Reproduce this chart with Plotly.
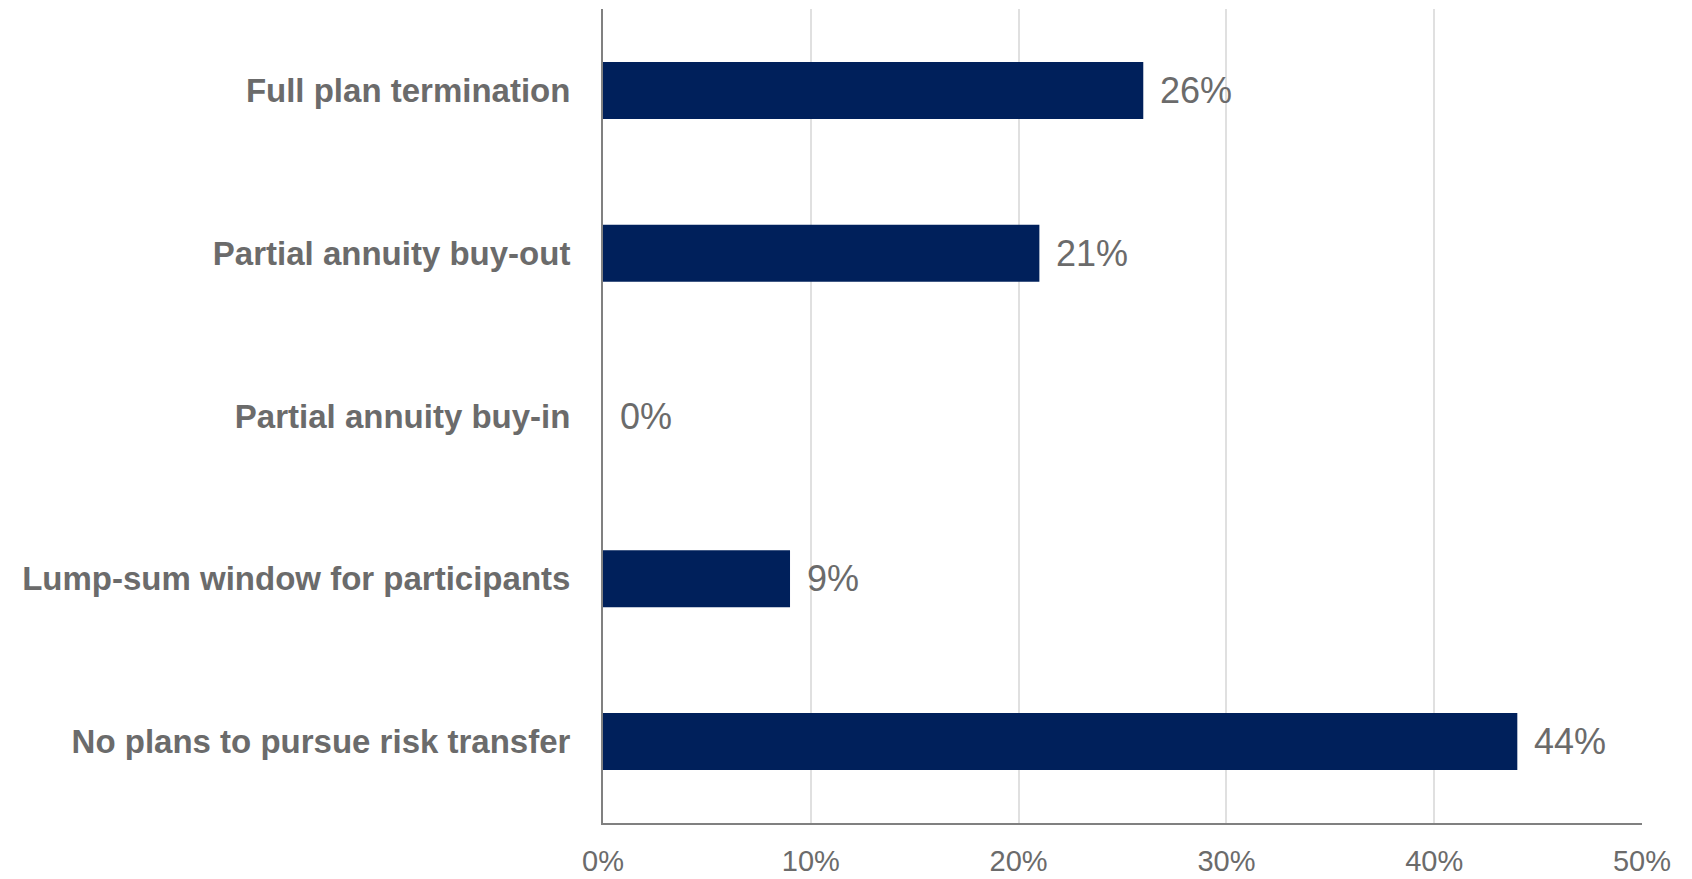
import plotly.graph_objects as go

categories = [
    "Full plan termination",
    "Partial annuity buy-out",
    "Partial annuity buy-in",
    "Lump-sum window for participants",
    "No plans to pursue risk transfer",
]
values = [26, 21, 0, 9, 44]
value_labels = ["26%", "21%", "0%", "9%", "44%"]
tick_vals = [0, 10, 20, 30, 40, 50]
tick_text = ["0%", "10%", "20%", "30%", "40%", "50%"]

fig = go.Figure()
fig.add_trace(go.Bar(
    x=values,
    y=categories,
    orientation="h",
    marker=dict(color="#00205B", line=dict(width=0)),
    hoverinfo="skip",
))

for v, lab, cat in zip(values, value_labels, categories):
    fig.add_annotation(
        x=v, y=cat, xref="x", yref="y",
        text=lab, showarrow=False,
        xanchor="left", yanchor="middle", xshift=15,
        font=dict(family="Liberation Sans, Arial, sans-serif", size=36, color="#6b6b6b"),
    )

fig.update_layout(
    width=1692, height=879,
    margin=dict(l=603, r=50, t=9, b=56, autoexpand=False),
    paper_bgcolor="white",
    plot_bgcolor="white",
    bargap=0.65,
    showlegend=False,
    font=dict(family="Liberation Sans, Arial, sans-serif", color="#6b6b6b"),
)
fig.update_xaxes(
    range=[0, 50],
    tickvals=tick_vals,
    ticktext=tick_text,
    showgrid=True, gridcolor="#e0e0e0", gridwidth=2,
    showline=True, linecolor="#808080", linewidth=2,
    zeroline=False,
    ticks="",
    automargin=False,
    ticklabelstandoff=11,
    tickfont=dict(size=29, color="#6b6b6b"),
    fixedrange=True,
)
fig.update_yaxes(
    categoryorder="array",
    categoryarray=categories[::-1],
    showgrid=False,
    showline=True, linecolor="#808080", linewidth=2,
    ticks="",
    automargin=False,
    ticklabelstandoff=24,
    tickfont=dict(size=33, color="#6b6b6b", family="Liberation Sans, Arial, sans-serif", weight="bold"),
    fixedrange=True,
)

fig.write_html("out.html", config={"displayModeBar": False})
